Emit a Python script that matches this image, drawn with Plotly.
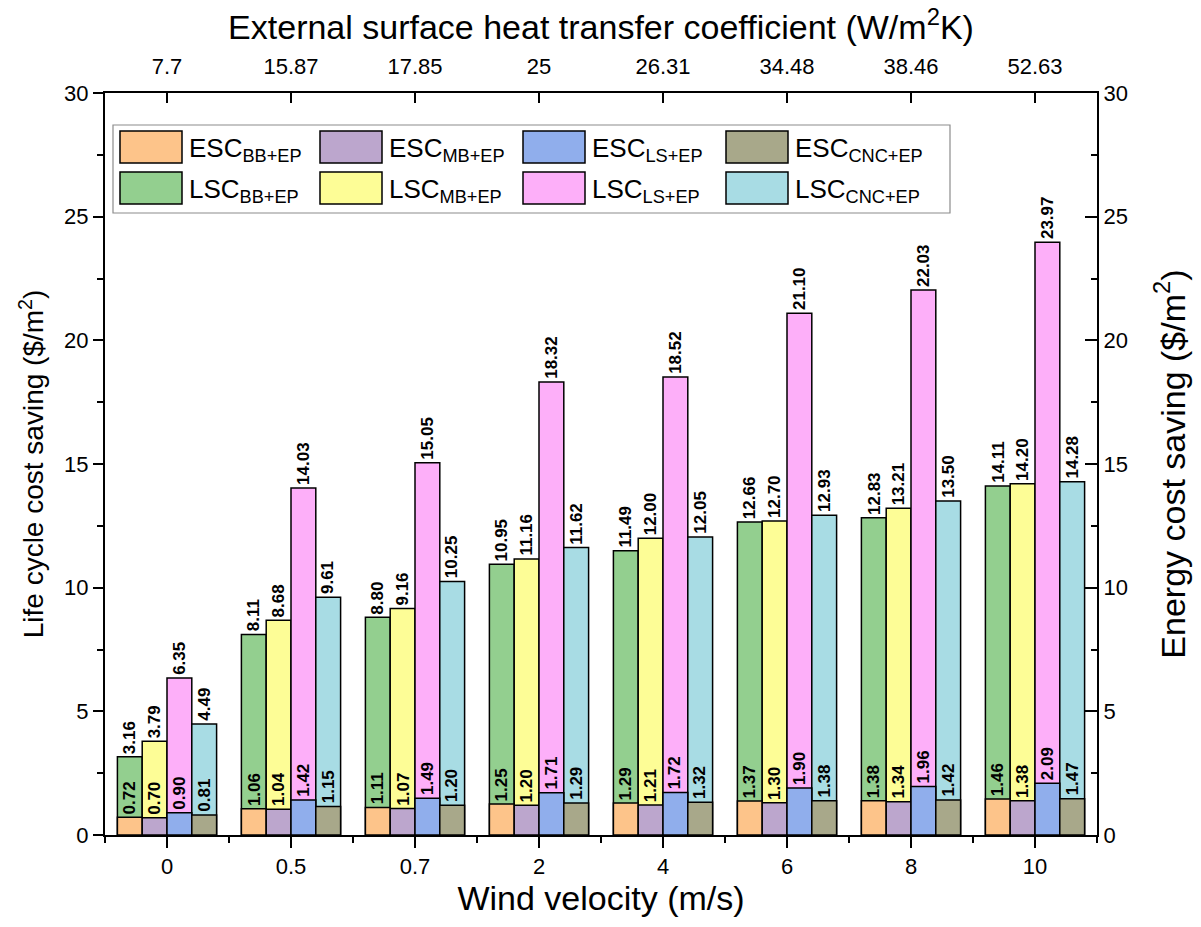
import plotly.graph_objects as go

# Wind velocity categories and the matching external surface heat transfer coefficients
wind_velocity = ["0", "0.5", "0.7", "2", "4", "6", "8", "10"]
htc_labels = ["7.7", "15.87", "17.85", "25", "26.31", "34.48", "38.46", "52.63"]

# Energy cost saving ($/m2)
esc_bb = [0.72, 1.06, 1.11, 1.25, 1.29, 1.37, 1.38, 1.46]
esc_mb = [0.70, 1.04, 1.07, 1.20, 1.21, 1.30, 1.34, 1.38]
esc_ls = [0.90, 1.42, 1.49, 1.71, 1.72, 1.90, 1.96, 2.09]
esc_cnc = [0.81, 1.15, 1.20, 1.29, 1.32, 1.38, 1.42, 1.47]

# Life cycle cost saving ($/m2)
lsc_bb = [3.16, 8.11, 8.80, 10.95, 11.49, 12.66, 12.83, 14.11]
lsc_mb = [3.79, 8.68, 9.16, 11.16, 12.00, 12.70, 13.21, 14.20]
lsc_ls = [6.35, 14.03, 15.05, 18.32, 18.52, 21.10, 22.03, 23.97]
lsc_cnc = [4.49, 9.61, 10.25, 11.62, 12.05, 12.93, 13.50, 14.28]

FONT = "Liberation Sans, Arial, sans-serif"
W, H = 1201, 927
L, R, T, B = 105, 104, 93, 92
PW, PH = W - L - R, H - T - B

x = list(range(len(wind_velocity)))
bar_w = 0.2
offsets = [-0.4, -0.2, 0.0, 0.2]

lsc_series = [
    ("LSC<sub>BB+EP</sub>", lsc_bb, "#93CF8F"),
    ("LSC<sub>MB+EP</sub>", lsc_mb, "#FDFD96"),
    ("LSC<sub>LS+EP</sub>", lsc_ls, "#FDAFF9"),
    ("LSC<sub>CNC+EP</sub>", lsc_cnc, "#A8DCE4"),
]
esc_series = [
    ("ESC<sub>BB+EP</sub>", esc_bb, "#FDC48A"),
    ("ESC<sub>MB+EP</sub>", esc_mb, "#BCA6CD"),
    ("ESC<sub>LS+EP</sub>", esc_ls, "#90AEEC"),
    ("ESC<sub>CNC+EP</sub>", esc_cnc, "#A8A88A"),
]

fig = go.Figure()
label_font = dict(family=FONT, size=17, color="black", weight="bold")
annotations = []


def add_series(series, xa, ya):
    for (name, vals, col), off in zip(series, offsets):
        fig.add_trace(go.Bar(
            x=x, y=vals, name=name, offset=off, width=bar_w,
            marker=dict(color=col, line=dict(color="black", width=1.5)),
            showlegend=False, xaxis=xa, yaxis=ya,
        ))
        # value labels, rotated, sitting just above each bar
        for xi, v in zip(x, vals):
            annotations.append(dict(
                x=xi + off + bar_w / 2, y=v, xref=xa, yref=ya,
                text=f"{v:.2f}", textangle=-90, showarrow=False,
                xanchor="center", yanchor="bottom", yshift=1,
                font=label_font,
            ))


add_series(lsc_series, "x", "y")
add_series(esc_series, "x2", "y2")

tick_font = dict(family=FONT, size=22, color="black")
axis_common = dict(showline=True, linewidth=2, linecolor="black", showgrid=False,
                   zeroline=False, tickwidth=2, tickcolor="black", tickfont=tick_font)

fig.update_layout(
    width=W, height=H,
    margin=dict(l=L, r=R, t=T, b=B, pad=0),
    paper_bgcolor="white", plot_bgcolor="white",
    barmode="overlay",
    showlegend=False,
    xaxis=dict(
        range=[-0.5, 7.5], tickmode="array", tickvals=x, ticktext=wind_velocity,
        ticks="outside", ticklen=11,
        minor=dict(tickmode="linear", tick0=-0.5, dtick=1, ticks="outside",
                   ticklen=6, tickwidth=2, tickcolor="black"),
        title=dict(text="Wind velocity (m/s)",
                   font=dict(family=FONT, size=34, color="black"), standoff=4),
        **axis_common,
    ),
    xaxis2=dict(
        range=[-0.5, 7.5], overlaying="x", side="top", anchor="y2",
        tickmode="array", tickvals=x, ticktext=htc_labels,
        ticks="inside", ticklen=10, ticklabelstandoff=8,
        title=dict(text="External surface heat transfer coefficient (W/m<sup>2</sup>K)",
                   font=dict(family=FONT, size=34, color="black"), standoff=4),
        **axis_common,
    ),
    yaxis=dict(
        range=[0, 30], tickmode="linear", tick0=0, dtick=5,
        ticks="outside", ticklen=10,
        minor=dict(tickmode="linear", tick0=0, dtick=2.5, ticks="outside",
                   ticklen=6, tickwidth=2, tickcolor="black"),
        title=dict(text="Life cycle cost saving ($/m<sup>2</sup>)",
                   font=dict(family=FONT, size=28, color="black"), standoff=12),
        **axis_common,
    ),
    yaxis2=dict(
        range=[0, 30], overlaying="y", side="right", anchor="x2",
        tickmode="linear", tick0=0, dtick=5,
        ticks="inside", ticklen=12,
        minor=dict(tickmode="linear", tick0=0, dtick=2.5, ticks="inside",
                   ticklen=6, tickwidth=2, tickcolor="black"),
        title=dict(text="Energy cost saving ($/m<sup>2</sup>)",
                   font=dict(family=FONT, size=34, color="black"), standoff=34),
        **axis_common,
    ),
)


def px_x(p):
    return (p - L) / PW


def px_y(p):
    return (H - B - p) / PH


# Legend drawn as a boxed 2 x 4 grid of swatches and labels
shapes = [dict(type="rect", xref="paper", yref="paper",
               x0=px_x(113), x1=px_x(950), y0=px_y(213), y1=px_y(125),
               line=dict(color="#8c8c8c", width=1.2), fillcolor="white", layer="above")]
col_swatch_x = [120, 320, 523, 726]
row_swatch_y = [(131, 163), (172, 204)]
for r, series in enumerate([esc_series, lsc_series]):
    for c, (name, _, col) in enumerate(series):
        sx = col_swatch_x[c]
        y0, y1 = row_swatch_y[r]
        shapes.append(dict(type="rect", xref="paper", yref="paper",
                           x0=px_x(sx), x1=px_x(sx + 62), y0=px_y(y1), y1=px_y(y0),
                           line=dict(color="black", width=1.5), fillcolor=col, layer="above"))
        annotations.append(dict(xref="paper", yref="paper", x=px_x(sx + 67),
                                y=px_y((y0 + y1) / 2 + 2), text=name, showarrow=False,
                                xanchor="left", yanchor="middle",
                                font=dict(family=FONT, size=26, color="black")))

fig.update_layout(shapes=shapes, annotations=annotations)

fig.write_html("out.html")
